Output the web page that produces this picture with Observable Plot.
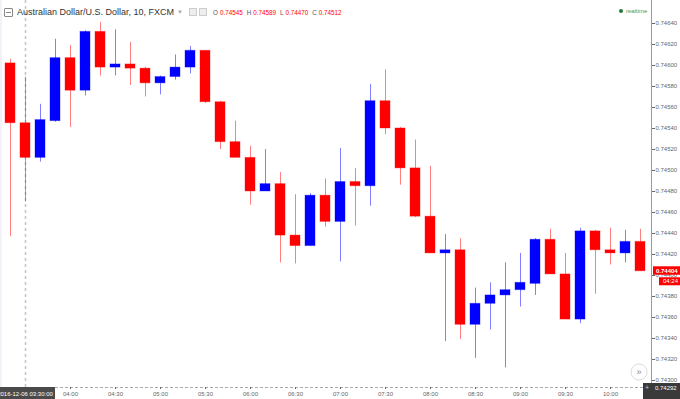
<!DOCTYPE html>
<html><head><meta charset="utf-8">
<script src="https://cdn.jsdelivr.net/npm/d3@7"></script>
<script src="https://cdn.jsdelivr.net/npm/@observablehq/plot@0.6"></script>
<style>
body{margin:0;background:#fff;font-family:"Liberation Sans",Arial,sans-serif;}
#wrap{position:relative;width:680px;height:399px;overflow:hidden;background:#fff;}
#title{position:absolute;left:4px;top:6px;height:12px;display:flex;align-items:center;white-space:nowrap;font-size:9px;color:#333;}
#title .ic{display:inline-block;width:7px;height:7px;border:1px solid #888;border-radius:1px;position:relative;margin-right:4px;}
#title .ic:after{content:"";position:absolute;left:1px;right:1px;top:3px;height:1px;background:#888;}
#title .caret{color:#aaa;font-size:6px;margin-left:3px;}
#title .gbox{display:inline-block;width:6px;height:6px;border:1px solid #ccc;background:#eee;margin-left:2px;}
#title .ohlc{font-size:6.3px;margin-left:6px;}
#title .ohlc .k{color:#555;margin-right:2px;}
#title .ohlc .v{color:#ff0000;margin-right:4px;}
#rt{position:absolute;left:619px;top:8px;font-size:6px;color:#3b9c5e;display:flex;align-items:center;}
#rt i{display:inline-block;width:4px;height:4px;border-radius:50%;background:#1e7a3e;margin-right:3px;}
</style></head><body>
<div id="wrap"></div>
<script>
// ---- data (10-minute candles, AUD/USD, 2016-12-06) ----
const times = ["03:20","03:30","03:40","03:50","04:00","04:10","04:20","04:30","04:40","04:50",
  "05:00","05:10","05:20","05:30","05:40","05:50","06:00","06:10","06:20","06:30",
  "06:40","06:50","07:00","07:10","07:20","07:30","07:40","07:50","08:00","08:10",
  "08:20","08:30","08:40","08:50","09:00","09:10","09:20","09:30","09:40","09:50",
  "10:00","10:10","10:20"];
const open = [0.74602,0.74545,0.74512,0.74547,0.74607,0.74576,0.74632,0.74598,0.74601,0.74597,
  0.74583,0.74589,0.74598,0.74614,0.74565,0.74527,0.74512,0.74480,0.74487,0.74438,
  0.74428,0.74476,0.74451,0.74489,0.74485,0.74566,0.74540,0.74502,0.74456,0.74421,
  0.74424,0.74353,0.74373,0.74381,0.74386,0.74392,0.74434,0.74401,0.74358,0.74442,
  0.74424,0.74421,0.74432];
const high = [0.74606,0.74589,0.74563,0.74625,0.74619,0.74633,0.74641,0.74634,0.74622,0.74598,
  0.74590,0.74610,0.74618,0.74614,0.74566,0.74547,0.74523,0.74520,0.74498,0.74477,
  0.74478,0.74492,0.74521,0.74502,0.74582,0.74596,0.74541,0.74529,0.74504,0.74439,
  0.74435,0.74388,0.74393,0.74412,0.74421,0.74435,0.74444,0.74421,0.74445,0.74443,
  0.74445,0.74443,0.74444];
const low = [0.74437,0.74470,0.74508,0.74546,0.74541,0.74571,0.74590,0.74590,0.74581,0.74570,
  0.74572,0.74586,0.74592,0.74564,0.74520,0.74512,0.74467,0.74480,0.74412,0.74411,
  0.74428,0.74446,0.74413,0.74447,0.74466,0.74534,0.74486,0.74455,0.74421,0.74337,
  0.74339,0.74321,0.74348,0.74312,0.74370,0.74381,0.74401,0.74358,0.74354,0.74382,
  0.74410,0.74412,0.74404];
const close = [0.74545,0.74512,0.74548,0.74607,0.74576,0.74632,0.74598,0.74601,0.74597,0.74583,
  0.74589,0.74598,0.74614,0.74565,0.74527,0.74512,0.74480,0.74487,0.74438,0.74428,
  0.74476,0.74451,0.74489,0.74485,0.74566,0.74540,0.74502,0.74456,0.74421,0.74424,
  0.74353,0.74373,0.74381,0.74386,0.74393,0.74434,0.74401,0.74358,0.74442,0.74424,
  0.74421,0.74432,0.74404];
const yTicks = [0.74300,0.74320,0.74340,0.74360,0.74380,0.74400,0.74420,0.74440,0.74460,0.74480,
  0.74500,0.74520,0.74540,0.74560,0.74580,0.74600,0.74620,0.74640];
const xTicks = ["04:00","04:30","05:00","05:30","06:00","06:30","07:00","07:30","08:00","08:30","09:00","09:30","10:00"];
const crossTime = "03:30";
const crossLabel = "2016-12-06 03:30:00";
const hovered = {O: "0.74545", H: "0.74589", L: "0.74470", C: "0.74512"};
const countdown = "04:24";
const crossPrice = "0.74292";
const xDomain = ["03:13:20","10:27:20"];
const yDomain = [0.742933, 0.746619];

// ---- build ----
const parse = t => new Date(`2016-12-06T${t.length === 5 ? t + ":00" : t}Z`);
const data = times.map((t, i) => ({date: parse(t), open: open[i], high: high[i], low: low[i], close: close[i]}));
const col = d => d.close >= d.open ? "#0000ff" : "#ff0000";
const half = 200000; // half body width in ms

const chart = Plot.plot({
  width: 680, height: 399,
  marginTop: 0, marginBottom: 12, marginLeft: 0, marginRight: 29,
  style: {fontFamily: "Liberation Sans, Arial, sans-serif", background: "#fff"},
  x: {type: "utc", domain: xDomain.map(parse)},
  y: {domain: yDomain},
  color: {type: "identity"},
  marks: [
    Plot.ruleX([parse(crossTime)], {stroke: "#c4c4c4", strokeWidth: 1.5, strokeDasharray: "3,3"}),
    Plot.ruleX(data, {x: "date", y1: "low", y2: "high", stroke: col, strokeOpacity: 0.5}),
    Plot.rect(data, {x1: d => new Date(+d.date - half), x2: d => new Date(+d.date + half),
      y1: "open", y2: "close", fill: col, stroke: col, strokeOpacity: 0.35, strokeWidth: 1}),
    Plot.ruleY([yDomain[0]], {stroke: "#aaa", strokeDasharray: "3,2"}),
    Plot.ruleX([parse(xDomain[1])], {stroke: "#999"}),
    Plot.axisY({anchor: "right", ticks: yTicks, tickFormat: d3.format(".5f"), tickSize: 3, tickPadding: 1, fontSize: 6, color: "#666"}),
    Plot.axisX({ticks: xTicks.map(parse), tickFormat: d3.utcFormat("%H:%M"), tickSize: 2, tickPadding: 2, fontSize: 6, color: "#666"})
  ]
});

const wrap = document.getElementById("wrap");
wrap.appendChild(chart);

// annotations positioned through the chart's scales
const X = chart.scale("x"), Y = chart.scale("y");
const xr = Math.max(...X.range), yb = Math.max(...Y.range);
const svg = d3.select(chart);
const g = svg.append("g").attr("font-family", "Liberation Sans, Arial, sans-serif").attr("text-anchor", "start");

g.append("line").attr("x1", 1).attr("x2", 1).attr("y1", 0).attr("y2", yb).attr("stroke", "#e4e4f0");

// crosshair time label
const cx = X.apply(parse(crossTime));
g.append("rect").attr("x", cx - 31).attr("y", yb).attr("width", 61).attr("height", 12).attr("fill", "#4a4a4a");
g.append("text").attr("x", cx).attr("y", yb + 6.5).attr("dy", "0.35em").attr("text-anchor", "middle")
  .attr("font-size", 6).attr("fill", "#fff").text(crossLabel);

// last price label
const last = data[data.length - 1];
const yl = Y.apply(last.close);
g.append("rect").attr("x", xr + 2).attr("y", yl - 4.5).attr("width", 680 - xr - 2).attr("height", 8.5).attr("fill", "#ff0000");
g.append("text").attr("x", xr + 5).attr("y", yl).attr("dy", "0.35em").attr("font-size", 6).attr("font-weight", "bold")
  .attr("fill", "#fff").text(d3.format(".5f")(last.close));
g.append("rect").attr("x", xr + 8).attr("y", yl + 6.5).attr("width", 680 - xr - 8).attr("height", 8).attr("fill", "#ff0000");
g.append("text").attr("x", xr + 12).attr("y", yl + 10.5).attr("dy", "0.35em").attr("font-size", 6)
  .attr("fill", "#fff").text(countdown);

// crosshair price label at bottom right
g.append("rect").attr("x", xr - 8).attr("y", yb - 4).attr("width", 680 - xr + 8).attr("height", 16).attr("fill", "#3a3a3a");
g.append("text").attr("x", xr - 4).attr("y", yb + 0.5).attr("dy", "0.35em").attr("text-anchor", "middle").attr("font-size", 7).attr("fill", "#ccc").text("+");
g.append("text").attr("x", xr + 4).attr("y", yb + 1).attr("dy", "0.35em").attr("font-size", 6).attr("fill", "#fff").text(crossPrice);

// scroll button
g.append("circle").attr("cx", xr - 12).attr("cy", yb - 15).attr("r", 8).attr("fill", "#fff").attr("stroke", "#ddd");
g.append("text").attr("x", xr - 12).attr("y", yb - 15).attr("dy", "0.35em").attr("text-anchor", "middle")
  .attr("font-size", 9).attr("fill", "#888").text("»");

// title overlay
const title = document.createElement("div");
title.id = "title";
title.innerHTML = `<span class="ic"></span><span>Australian Dollar/U.S. Dollar, 10, FXCM</span><span class="caret">▼</span>` +
  `<span class="gbox" style="margin-left:6px"></span><span class="gbox"></span>` +
  `<span class="ohlc">` + Object.entries(hovered).map(([k, v]) => `<span class="k">${k}</span><span class="v">${v}</span>`).join("") + `</span>`;
wrap.appendChild(title);
const rt = document.createElement("div");
rt.id = "rt";
rt.innerHTML = `<i></i>realtime`;
wrap.appendChild(rt);
</script>
</body></html>
